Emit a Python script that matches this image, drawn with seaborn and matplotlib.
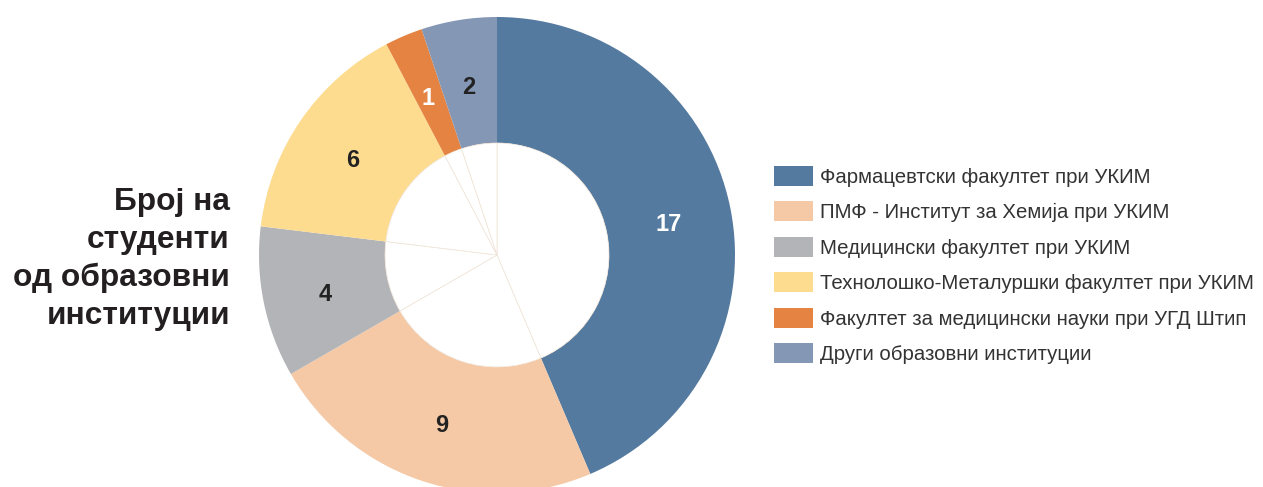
import matplotlib
matplotlib.use("Agg")
import matplotlib.pyplot as plt
import seaborn as sns
import numpy as np

# data
institutions = [
    "Фармацевтски факултет при УКИМ",
    "ПМФ - Институт за Хемија при УКИМ",
    "Медицински факултет при УКИМ",
    "Технолошко-Металуршки факултет при УКИМ",
    "Факултет за медицински науки при УГД Штип",
    "Други образовни институции",
]
students = [17, 9, 4, 6, 1, 2]
slice_colors = ["#557A9F", "#F5C9A5", "#B3B4B8", "#FEDC8F", "#E58342", "#8497B5"]
label_colors = ["white", "#222222", "#222222", "#222222", "white", "#222222"]
title_text = "Број на\nстуденти\nод образовни\nинституции"

sns.set_theme(style="white")
plt.rcParams["font.family"] = ["Liberation Sans", "DejaVu Sans"]
palette = sns.color_palette(slice_colors)

W, H = 1263, 487
fig = plt.figure(figsize=(W / 100, H / 100), dpi=100)

# pie axes: centre (497, 255) px, outer radius 238 px
cx, cy, R = 497, 255, 238
ax = fig.add_axes([(cx - R) / W, (H - cy - R) / H, 2 * R / W, 2 * R / H])
ax.set_aspect("equal")

inner = 112 / R
wedges, _ = ax.pie(students, colors=palette, startangle=90, counterclock=False,
                   radius=1, wedgeprops=dict(width=1 - inner, linewidth=0))
# faint dividers inside the hole
ax.pie(students, colors=["white"] * len(students), startangle=90, counterclock=False,
       radius=inner, wedgeprops=dict(linewidth=0.5, edgecolor="#EFE3D6"))

total = sum(students)
start = 90.0
for val, col in zip(students, label_colors):
    sweep = val / total * 360
    mid = np.deg2rad(start - sweep / 2)
    r = (1 + inner) / 2
    ax.text(r * np.cos(mid), r * np.sin(mid) - 0.02, str(val), ha="center", va="center",
            fontsize=17, fontweight="bold", color=col)
    start -= sweep

ax.set_xlim(-1, 1)
ax.set_ylim(-1, 1)
ax.axis("off")

fig.text(230 / W, 1 - 259 / H, title_text, ha="right", va="center", fontsize=22.8,
         fontweight="bold", color="#231F20", linespacing=1.34)

fs = 14.7
fig.legend(wedges, institutions, loc="center left", bbox_to_anchor=(774 / W, 1 - 265 / H),
           frameon=False, fontsize=fs, handlelength=1.9, handleheight=1.12,
           labelspacing=0.72, handletextpad=0.35, borderpad=0, borderaxespad=0,
           labelcolor="#333333")

fig.savefig("out.png", dpi=100)
